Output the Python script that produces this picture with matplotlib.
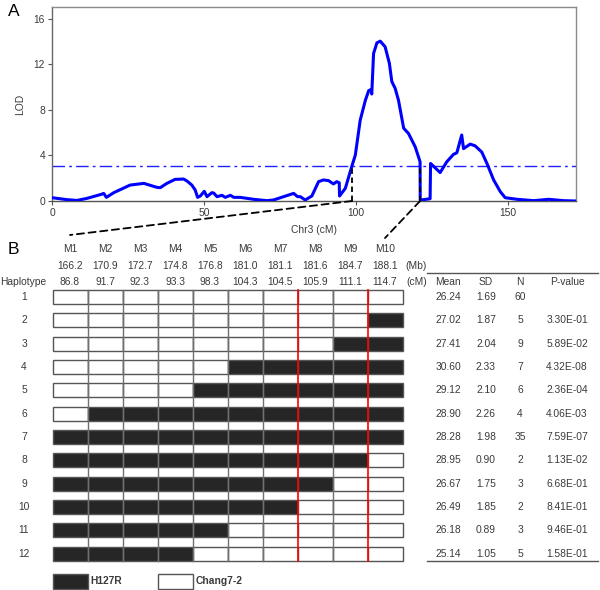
import matplotlib
matplotlib.use("Agg")
import matplotlib.pyplot as plt
from matplotlib.patches import Rectangle, ConnectionPatch

plt.rcParams['font.family'] = ['Liberation Sans', 'DejaVu Sans']

# ---------------- data ----------------
lod_cm = [0, 4.9, 8.2, 11.5, 16.4, 17.0, 17.9, 20.3, 25.7, 30.2, 34.5, 35.6, 37.8, 40.5,
          43.3, 44.4, 46.0, 47.1, 47.9, 48.8, 50.1, 51.0, 52.6, 53.2, 54.3, 55.9, 57.0,
          58.7, 59.8, 61.9, 66.3, 70.7, 72.9, 76.2, 79.5, 80.8, 81.7, 83.3, 85.5, 87.7,
          89.3, 91.0, 92.6, 93.7, 94.5, 94.6, 96.5, 98.7, 99.8, 101.4, 103.1, 104.2,
          105.0, 105.2, 105.8, 106.9, 108.0, 109.6, 111.0, 111.8, 112.9, 114.0, 115.7,
          117.3, 119.5, 121.1, 121.15, 124.4, 124.55, 127.7, 129.9, 132.1, 133.2, 134.8,
          135.4, 137.6, 139.2, 141.4, 143.1, 145.3, 147.5, 149.1, 153.0, 158.5, 163.4,
          168.3, 172.4]
lod_val = [0.29, 0.12, 0.05, 0.23, 0.60, 0.67, 0.32, 0.73, 1.40, 1.55, 1.20, 1.17, 1.55, 1.90,
           1.93, 1.76, 1.40, 0.97, 0.32, 0.44, 0.85, 0.38, 0.73, 0.70, 0.38, 0.50, 0.32,
           0.50, 0.32, 0.32, 0.15, 0.03, 0.09, 0.38, 0.67, 0.38, 0.38, 0.09, 0.44, 1.70,
           1.85, 1.79, 1.50, 1.70, 1.60, 0.44, 1.11, 3.10, 4.04, 7.10, 8.85, 9.70,
           9.80, 9.40, 12.97, 13.90, 14.05, 13.55, 12.10, 10.50, 9.90, 8.85, 6.40,
           5.93, 4.76, 3.45, 0.08, 0.20, 3.30, 2.50, 3.45, 4.10, 4.24, 5.80,
           4.60, 5.00, 4.85, 4.30, 3.30, 1.85, 0.82, 0.29, 0.15, 0.03, 0.15,
           0.03, 0.00]
threshold = 3.1
qtl_bounds = [98.7, 121.1]

markers = ['M1', 'M2', 'M3', 'M4', 'M5', 'M6', 'M7', 'M8', 'M9', 'M10']
marker_mb = ['166.2', '170.9', '172.7', '174.8', '176.8', '181.0', '181.1', '181.6', '184.7', '188.1']
marker_cm = ['86.8', '91.7', '92.3', '93.3', '98.3', '104.3', '104.5', '105.9', '111.1', '114.7']

hap_ids = ['1', '2', '3', '4', '5', '6', '7', '8', '9', '10', '11', '12']
# 1 = H127R (black), 0 = Chang7-2 (white)
haplotypes = [
    [0, 0, 0, 0, 0, 0, 0, 0, 0, 0],
    [0, 0, 0, 0, 0, 0, 0, 0, 0, 1],
    [0, 0, 0, 0, 0, 0, 0, 0, 1, 1],
    [0, 0, 0, 0, 0, 1, 1, 1, 1, 1],
    [0, 0, 0, 0, 1, 1, 1, 1, 1, 1],
    [0, 1, 1, 1, 1, 1, 1, 1, 1, 1],
    [1, 1, 1, 1, 1, 1, 1, 1, 1, 1],
    [1, 1, 1, 1, 1, 1, 1, 1, 1, 0],
    [1, 1, 1, 1, 1, 1, 1, 1, 0, 0],
    [1, 1, 1, 1, 1, 1, 1, 0, 0, 0],
    [1, 1, 1, 1, 1, 0, 0, 0, 0, 0],
    [1, 1, 1, 1, 0, 0, 0, 0, 0, 0],
]
means = ['26.24', '27.02', '27.41', '30.60', '29.12', '28.90', '28.28', '28.95', '26.67', '26.49', '26.18', '25.14']
sds = ['1.69', '1.87', '2.04', '2.33', '2.10', '2.26', '1.98', '0.90', '1.75', '1.85', '0.89', '1.05']
ns = ['60', '5', '9', '7', '6', '4', '35', '2', '3', '2', '3', '5']
pvals = ['', '3.30E-01', '5.89E-02', '4.32E-08', '2.36E-04', '4.06E-03', '7.59E-07',
         '1.13E-02', '6.68E-01', '8.41E-01', '9.46E-01', '1.58E-01']
red_boundaries = [7, 9]   # red lines before M8 and before M10
legend_labels = ['H127R', 'Chang7-2']

# ---------------- layout ----------------
W, H = 600, 590
fig = plt.figure(figsize=(6, 5.9), dpi=100)
TXT = '#3a3a3a'
BLACK = '#262626'
FS = 7.4

# overlay axes in pixel coordinates (for panel B)
ov = fig.add_axes([0, 0, 1, 1])
ov.set_xlim(0, W)
ov.set_ylim(H, 0)
ov.axis('off')
ov.patch.set_visible(False)

# panel A
axL, axR, axT, axB = 52, 576, 7, 201
ax = fig.add_axes([axL / W, 1 - axB / H, (axR - axL) / W, (axB - axT) / H])
ax.plot(lod_cm, lod_val, color='#0000ff', lw=2.2, solid_joinstyle='round', zorder=3)
ax.axhline(threshold, color='#2020ff', lw=1.0, linestyle=(0, (9, 3, 2, 3)), zorder=2)
for b in qtl_bounds:
    ax.plot([b, b], [0, threshold], color='black', lw=1.3, linestyle=(0, (3, 2)), zorder=4)
ax.set_xlim(0, 172.4)
ax.set_ylim(0, 17.05)
ax.set_xticks([0, 50, 100, 150])
ax.set_yticks([0, 4, 8, 12, 16])
ax.tick_params(direction='out', length=3, width=0.8, color='#555555', labelcolor=TXT, labelsize=FS, pad=2)
for s in ax.spines.values():
    s.set_color('#8a8a8a')
    s.set_linewidth(1.0)
ax.spines['bottom'].set_color('#555555')
ax.spines['left'].set_color('#666666')
ax.set_ylabel('LOD', color=TXT, fontsize=FS, labelpad=6)
ax.set_xlabel('Chr3 (cM)', color=TXT, fontsize=FS, labelpad=5)
fig.text(8 / W, 1 - 11 / H, 'A', fontsize=12.5, color='black', va='center', ha='left')
fig.text(8 / W, 1 - 249 / H, 'B', fontsize=12.5, color='black', va='center', ha='left')

# panel B geometry
x0, cw = 52.5, 35.0
y0, rh, bh = 290.0, 23.33, 14.0
ncol = len(markers)
nrow = len(haplotypes)

# connectors from QTL bounds to marker columns
conn_targets = [(x0 + 0.5 * cw, 235), (x0 + (ncol - 0.5) * cw, 238)]
for b, (tx, ty) in zip(qtl_bounds, conn_targets):
    cp = ConnectionPatch(xyA=(b, 0), coordsA=ax.transData, xyB=(tx, ty), coordsB=ov.transData,
                         color='black', lw=1.3, linestyle=(0, (4, 2.5)))
    fig.add_artist(cp)

# header rows
for c in range(ncol):
    cx = x0 + (c + 0.5) * cw
    ov.text(cx, 249, markers[c], ha='center', va='center', fontsize=FS, color=TXT)
    ov.text(cx, 266, marker_mb[c], ha='center', va='center', fontsize=FS, color=TXT)
    ov.text(cx, 282, marker_cm[c], ha='center', va='center', fontsize=FS, color=TXT)
ov.text(416.5, 266, '(Mb)', ha='center', va='center', fontsize=FS, color=TXT)
ov.text(416.5, 282, '(cM)', ha='center', va='center', fontsize=FS, color=TXT)
ov.text(23, 282, 'Haplotype', ha='center', va='center', fontsize=FS, color=TXT)

# haplotype boxes
for r, row in enumerate(haplotypes):
    top = y0 + r * rh
    for c, g in enumerate(row):
        ov.add_patch(Rectangle((x0 + c * cw, top), cw, bh,
                               facecolor=BLACK if g else 'white',
                               edgecolor='#555555', lw=1.0, zorder=2))
    ov.text(24, top + bh / 2, hap_ids[r], ha='center', va='center', fontsize=FS, color=TXT)

# continuous column separators
gy0, gy1 = y0, y0 + (nrow - 1) * rh + bh
for c in range(1, ncol):
    if c in red_boundaries:
        continue
    ov.plot([x0 + c * cw] * 2, [gy0, gy1], color='#707070', lw=1.0, zorder=3)
for c in red_boundaries:
    ov.plot([x0 + c * cw] * 2, [gy0, gy1], color='#ff0000', lw=1.2, zorder=4)

# phenotype table
tx_cols = [448, 486, 520, 567]
ov.plot([427, 598], [273.3, 273.3], color='#555555', lw=1.0)
ov.plot([427, 598], [gy1, gy1], color='#555555', lw=1.0)
for x, h in zip(tx_cols, ['Mean', 'SD', 'N', 'P-value']):
    ov.text(x, 282, h, ha='center', va='center', fontsize=FS, color=TXT)
for r in range(nrow):
    cy = y0 + r * rh + bh / 2
    for x, v in zip(tx_cols, [means[r], sds[r], ns[r], pvals[r]]):
        ov.text(x, cy, v, ha='center', va='center', fontsize=FS, color=TXT)

# legend
ly = 574
ov.add_patch(Rectangle((x0, ly), cw, 15, facecolor=BLACK, edgecolor='#555555', lw=1.0))
ov.text(x0 + cw + 3, ly + 7.5, legend_labels[0], ha='left', va='center', fontsize=FS,
        fontweight='bold', color=TXT)
ov.add_patch(Rectangle((x0 + 3 * cw, ly), cw, 15, facecolor='white', edgecolor='#555555', lw=1.0))
ov.text(x0 + 4 * cw + 3, ly + 7.5, legend_labels[1], ha='left', va='center', fontsize=FS,
        fontweight='bold', color=TXT)

fig.savefig('out.png', dpi=100, facecolor='white')
